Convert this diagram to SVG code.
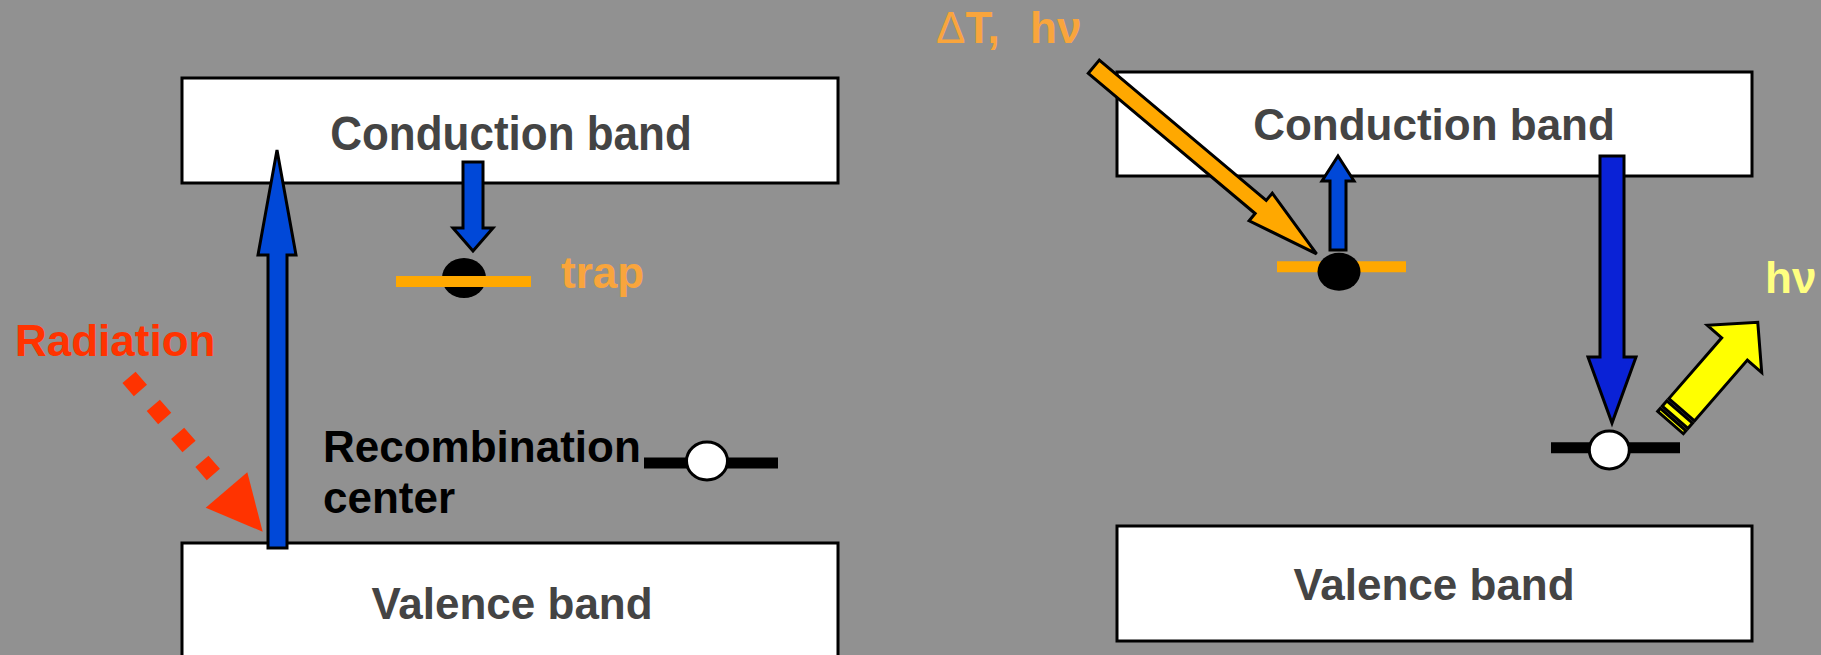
<svg xmlns="http://www.w3.org/2000/svg" width="1821" height="655" viewBox="0 0 1821 655">
  <style>
    .band { fill: #ffffff; stroke: #000000; stroke-width: 3; }
    .bandtxt { font-family: "Liberation Sans", Arial, sans-serif; font-weight: bold; font-size: 44px; fill: #444444; text-anchor: middle; }
    .lbl { font-family: "Liberation Sans", Arial, sans-serif; font-weight: bold; font-size: 44px; }
    .blue { fill: #0048d8; stroke: #000000; stroke-width: 3; stroke-linejoin: miter; }
    .deepblue { fill: #0a22d6; stroke: #000000; stroke-width: 3; }
    .orangearrow { fill: #ffa800; stroke: #000000; stroke-width: 3; }
    .yellowarrow { fill: #ffff00; stroke: #000000; stroke-width: 3; }
    .trapline { stroke: #ffa800; stroke-width: 11; }
    .recline { stroke: #000000; stroke-width: 11; }
    .hole { fill: #ffffff; stroke: #000000; stroke-width: 3; }
    .electron { fill: #000000; }
  </style>

  <rect x="0" y="0" width="1821" height="655" fill="#919191"/>

  <!-- left panel: excitation by radiation -->
  <g id="left-conduction-band">
    <rect class="band" x="182" y="78" width="656" height="105"/>
    <text class="bandtxt" transform="translate(511,150) scale(1,1.1)">Conduction band</text>
  </g>
  <g id="left-valence-band">
    <rect class="band" x="182" y="543" width="656" height="140"/>
    <text class="bandtxt" x="512" y="619">Valence band</text>
  </g>
  <g id="left-trap">
    <ellipse class="electron" cx="464" cy="278" rx="22" ry="20"/>
    <line class="trapline" x1="396" y1="281.5" x2="531" y2="281.5"/>
    <text class="lbl" x="561" y="288" fill="#f9a53c">trap</text>
  </g>
  <g id="left-recombination-center">
    <line class="recline" x1="644" y1="463" x2="778" y2="463"/>
    <ellipse class="hole" cx="707" cy="461" rx="20.5" ry="19"/>
    <text class="lbl" x="323" y="462" fill="#000000">Recombination</text>
    <text class="lbl" x="323" y="513" fill="#000000">center</text>
  </g>
  <g id="radiation">
    <text class="lbl" x="15" y="356" fill="#ff3300">Radiation</text>
  </g>

  <!-- right panel: stimulation and light emission -->
  <g id="right-conduction-band">
    <rect class="band" x="1117" y="72" width="635" height="104"/>
    <text class="bandtxt" x="1434" y="140">Conduction band</text>
  </g>
  <g id="right-valence-band">
    <rect class="band" x="1117" y="526" width="635" height="115"/>
    <text class="bandtxt" x="1434" y="600">Valence band</text>
  </g>
  <g id="right-trap">
    <line class="trapline" x1="1277" y1="266.7" x2="1406" y2="266.7"/>
    <ellipse class="electron" cx="1339" cy="271.7" rx="21.5" ry="19"/>
  </g>
  <g id="right-recombination-center">
    <line class="recline" x1="1551" y1="447.8" x2="1680" y2="447.8"/>
    <ellipse class="hole" cx="1609.3" cy="450" rx="20" ry="19"/>
  </g>
  <g id="stimulus-label">
    <text class="lbl" x="936" y="43" fill="#f9a53c"><tspan font-weight="normal">Δ</tspan>T, <tspan x="1030">hν</tspan></text>
  </g>
  <g id="emission-label">
    <text class="lbl" x="1765" y="293" fill="#ffff80">hν</text>
  </g>

  <g id="connectors">
    <!-- radiation: dotted arrow -->
    <line x1="129" y1="377.4" x2="213.4" y2="474.6" stroke="#ff3300" stroke-width="17.4" stroke-dasharray="17.4 19.67" stroke-linecap="butt"/>
    <polygon points="205.7,507.7 247.3,472.3 262.7,531.7" fill="#ff3300"/>

    <!-- left: excitation valence -> conduction -->
    <polygon class="blue" points="268,548 268,255 258,255 277,150 296,255 287,255 287,548"/>
    <!-- left: capture in trap -->
    <polygon class="blue" points="463,162 483,162 483,228 493,228 473,251 453,228 463,228"/>

    <!-- right: stimulation of trapped electron -->
    <polygon class="orangearrow" transform="translate(1093.8,66.7) rotate(40.04)" points="0,-8.6 218,-8.6 218,-18 291,0 218,18 218,8.6 0,8.6"/>
    <!-- right: release to conduction band -->
    <polygon class="blue" points="1330,250 1330,181 1322,181 1338,156 1354,181 1346,181 1346,250"/>
    <!-- right: recombination -->
    <polygon class="deepblue" points="1600,156 1624,156 1624,357 1636,357 1612,423 1588,357 1600,357"/>
    <!-- right: emitted photon (striped arrow) -->
    <g transform="translate(1670.5,422.6) rotate(-49)">
      <rect class="yellowarrow" x="0" y="-17" width="4" height="34" stroke-width="2"/>
      <rect class="yellowarrow" x="7" y="-17" width="7" height="34" stroke-width="2"/>
      <polygon class="yellowarrow" points="17,-17 97.6,-17 97.6,-36 133,0 97.6,36 97.6,17 17,17"/>
    </g>
  </g>
</svg>
